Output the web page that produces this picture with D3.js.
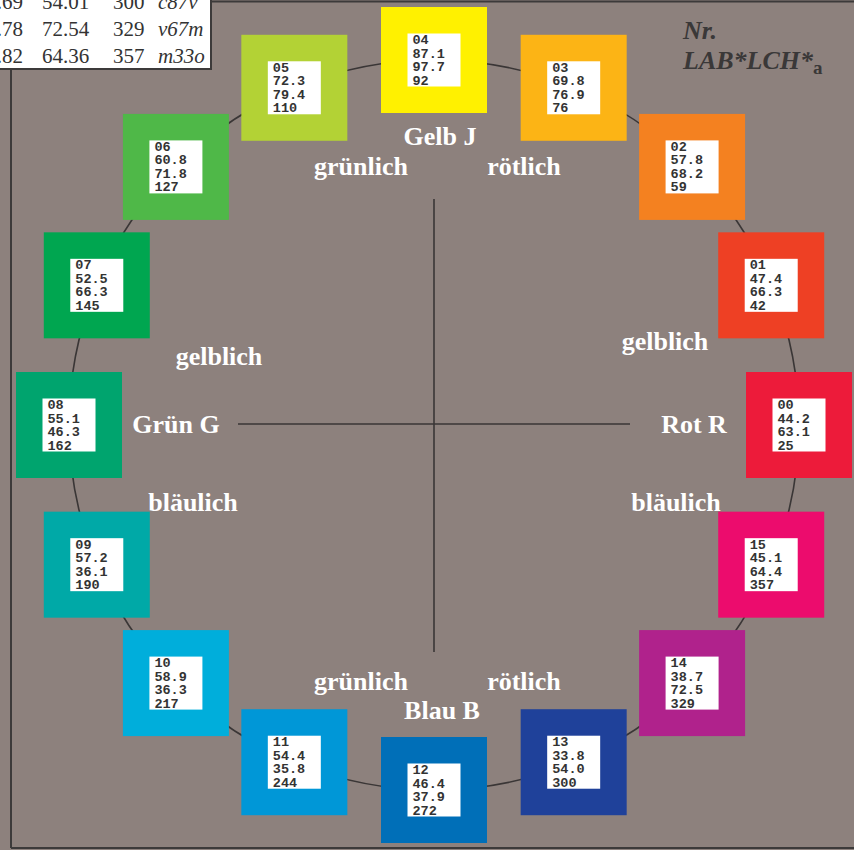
<!DOCTYPE html>
<html><head><meta charset="utf-8">
<script src="https://cdn.jsdelivr.net/npm/d3@7"></script>
<style>html,body{margin:0;padding:0;background:#fff;}svg{display:block;}</style>
</head><body>
<script>
const codes = ["00","01","02","03","04","05","06","07","08","09","10","11","12","13","14","15"];
const lValues = ["44.2","47.4","57.8","69.8","87.1","72.3","60.8","52.5","55.1","57.2","58.9","54.4","46.4","33.8","38.7","45.1"];
const cValues = ["63.1","66.3","68.2","76.9","97.7","79.4","71.8","66.3","46.3","36.1","36.3","35.8","37.9","54.0","72.5","64.4"];
const hValues = ["25","42","59","76","92","110","127","145","162","190","217","244","272","300","329","357"];
const colors = ["#ed1b3a","#ee4024","#f48120","#fcb415","#fff100","#b3d235","#4fb848","#00a650","#00a46e","#00a9a7","#00aedb","#0097d7","#006fb8","#1f419a","#b0228c","#ec0c6d"];
const tableRows = [
  ["33.69","54.01","300","c87v"],
  ["38.78","72.54","329","v67m"],
  ["45.82","64.36","357","m33o"]
];
const axisLabels = [
  {t:"Gelb J", x:440, y:145},
  {t:"grünlich", x:361, y:175},
  {t:"rötlich", x:524, y:175},
  {t:"gelblich", x:219, y:365},
  {t:"gelblich", x:665, y:350},
  {t:"Grün G", x:176, y:433},
  {t:"Rot R", x:694, y:433},
  {t:"bläulich", x:193, y:511},
  {t:"bläulich", x:676, y:511},
  {t:"grünlich", x:361, y:690},
  {t:"rötlich", x:524, y:690},
  {t:"Blau B", x:442, y:719}
];

const W = 854, H = 850;
const cx = 434, cy = 425, R = 365;
const svg = d3.select("body").append("svg").attr("width", W).attr("height", H);

svg.append("rect").attr("width", W).attr("height", H).attr("fill", "#8d817d");

// frame
const frame = svg.append("g").attr("stroke", "#3c3a3a").attr("stroke-width", 2).attr("fill", "none");
frame.append("line").attr("x1", 211).attr("x2", W).attr("y1", 1.5).attr("y2", 1.5);
frame.append("line").attr("x1", 11).attr("x2", 11).attr("y1", 69).attr("y2", 848);
frame.append("line").attr("x1", 11).attr("x2", W).attr("y1", 848).attr("y2", 848);

// angle scale
const angle = d3.scaleLinear().domain([0, codes.length]).range([0, 2 * Math.PI]);
const px = i => cx + R * Math.cos(angle(i));
const py = i => cy - R * Math.sin(angle(i));

// circle
svg.append("circle").attr("cx", cx).attr("cy", cy).attr("r", R)
  .attr("fill", "none").attr("stroke", "#3a3636").attr("stroke-width", 1.6);

// cross
svg.append("line").attr("x1", cx).attr("x2", cx).attr("y1", 199).attr("y2", 652)
  .attr("stroke", "#3a3636").attr("stroke-width", 1.6);
svg.append("line").attr("x1", 238).attr("x2", 630).attr("y1", 424).attr("y2", 424)
  .attr("stroke", "#3a3636").attr("stroke-width", 1.6);

// labels
svg.append("g").selectAll("text").data(axisLabels).join("text")
  .attr("x", d => d.x).attr("y", d => d.y)
  .attr("text-anchor", "middle")
  .attr("font-family", "'Liberation Serif','Times New Roman',serif")
  .attr("font-weight", "bold").attr("font-size", 26)
  .attr("fill", "#ffffff").text(d => d.t);

// squares
const S = 106, IB = 53;
const g = svg.append("g").selectAll("g").data(codes).join("g")
  .attr("transform", (d, i) => `translate(${px(i)},${py(i)})`);
g.append("rect").attr("x", -S / 2).attr("y", -S / 2).attr("width", S).attr("height", S)
  .attr("fill", (d, i) => colors[i]);
g.append("rect").attr("x", -IB / 2).attr("y", -IB / 2).attr("width", IB).attr("height", IB)
  .attr("fill", "#ffffff");
g.each(function (d, i) {
  const lines = [codes[i], lValues[i], cValues[i], hValues[i]];
  d3.select(this).selectAll("text.v").data(lines).join("text").attr("class", "v")
    .attr("x", -IB / 2 + 5).attr("y", (t, j) => -IB / 2 + 10.5 + j * 13.5)
    .attr("font-family", "'Liberation Mono','Courier New',monospace")
    .attr("font-weight", "bold").attr("font-size", 13.5)
    .attr("fill", "#333333").text(t => t);
});

// table top-left
svg.append("rect").attr("x", -5).attr("y", -5).attr("width", 216).attr("height", 74)
  .attr("fill", "#ffffff").attr("stroke", "#3c3a3a").attr("stroke-width", 2);
const colX = [23, 42, 113, 158];
const anchors = ["end", "start", "start", "start"];
tableRows.forEach((row, r) => {
  row.forEach((cell, c) => {
    svg.append("text").attr("x", colX[c]).attr("y", 9 + r * 27)
      .attr("text-anchor", anchors[c])
      .attr("font-family", "'Liberation Serif','Times New Roman',serif")
      .attr("font-size", 21).attr("font-style", c === 3 ? "italic" : "normal")
      .attr("fill", "#333333").text(cell);
  });
});

// top-right title
const tt = svg.append("g").attr("font-family", "'Liberation Serif','Times New Roman',serif")
  .attr("font-weight", "bold").attr("font-style", "italic").attr("fill", "#3a3838");
tt.append("text").attr("x", 683).attr("y", 39).attr("font-size", 26).text("Nr.");
const t2 = tt.append("text").attr("x", 683).attr("y", 69).attr("font-size", 26);
t2.append("tspan").text("LAB*LCH*");
t2.append("tspan").attr("font-style", "normal").attr("font-size", 19).attr("dy", 5).text("a");
</script>
</body></html>
